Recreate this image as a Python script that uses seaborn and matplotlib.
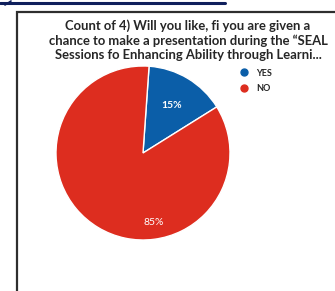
import matplotlib
matplotlib.use("Agg")
import matplotlib.pyplot as plt
import seaborn as sns
from matplotlib.patches import Rectangle
from matplotlib.lines import Line2D

# data
categories = ["YES", "NO"]
percent = [15, 85]
colors = ["#0b5ea8", "#dd2d1f"]
title = ("Count of 4) Will you like, fi you are given a\n"
         "chance to make a presentation during the \u201cSEAL\n"
         "Sessions fo Enhancing Ability through Learni...")

sns.set_theme(style="white")
plt.rcParams['font.family'] = ['Lato', 'DejaVu Sans']

W, H = 335, 291
fig = plt.figure(figsize=(W / 100, H / 100), dpi=100)
fig.patch.set_facecolor("white")

# outer chart box (runs off the right and bottom edges)
fig.patches.append(Rectangle((17 / W, -0.2), 1.0, (H - 12) / H + 0.2, transform=fig.transFigure,
                             fill=False, ec="#2e2e2e", lw=1.6))
# navy rule at the very top
fig.lines.append(Line2D([0, 225 / W], [(H - 2.5) / H] * 2, transform=fig.transFigure,
                        color="#0f1f5c", lw=2.2))
fig.lines.append(Line2D([5 / W, 11 / W], [(H - 5) / H, (H - 1) / H], transform=fig.transFigure,
                        color="#0f1f5c", lw=1.2))

fig.text(188 / W, (H - 40) / H, title, ha="center", va="center", fontsize=9.4,
         fontweight="bold", color="#262626", linespacing=1.25)

cx, cy, r = 143, 153, 87
ax = fig.add_axes([(cx - r) / W, (H - cy - r) / H, 2 * r / W, 2 * r / H])
wedges, texts, autotexts = ax.pie(percent, colors=colors, startangle=86, counterclock=False,
                                  autopct="%d%%", pctdistance=0.64,
                                  textprops=dict(color="white", fontsize=7.5))
autotexts[0].set_fontweight("bold")
autotexts[1].set_position((0.12, -0.80))
ax.set_xlim(-1, 1)
ax.set_ylim(-1, 1)
ax.axis("off")

handles = [Line2D([], [], marker="o", ls="", color=c, markersize=5) for c in colors]
leg = fig.legend(handles, categories, loc="upper left", bbox_to_anchor=(236 / W, (H - 64) / H),
                 frameon=False, handlelength=0.8, handletextpad=0.9, labelspacing=0.75,
                 prop=dict(size=6.5, weight="bold"), borderpad=0)
for t in leg.get_texts():
    t.set_color("#262626")

fig.savefig("out.png", dpi=100)
